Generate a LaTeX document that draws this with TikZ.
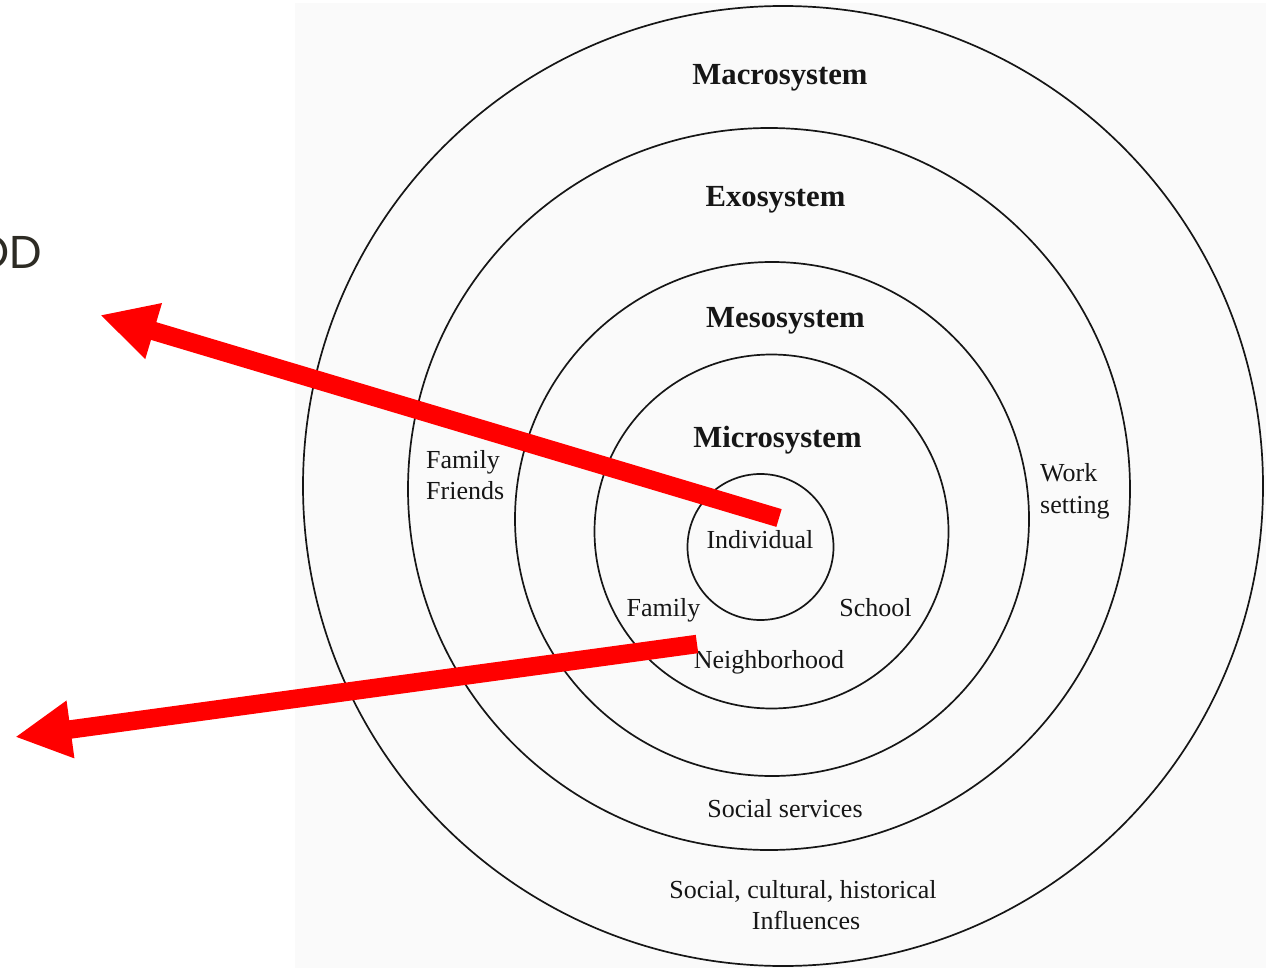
\documentclass[tikz,border=0pt]{standalone}
\usepackage{fontspec}
\setmainfont{Liberation Serif}
\newfontfamily\slidefont{Poppins}
\usetikzlibrary{arrows.meta}
\definecolor{panelgray}{RGB}{250,250,250}
\definecolor{ringline}{RGB}{22,22,22}
\definecolor{slidetext}{RGB}{45,43,36}
\begin{document}
\begin{tikzpicture}[x=1pt,y=-1pt,
  ring/.style={draw=ringline, line width=1.7pt},
  sysname/.style={font=\fontsize{30.7}{34}\selectfont\bfseries, text=ringline, inner sep=0pt, anchor=base},
  member/.style={font=\fontsize{26}{31}\selectfont, text=ringline, inner sep=0pt, anchor=base},
  memberleft/.style={member, anchor=base west},
  pointer/.style={draw=red, line width=18.5pt, -{Triangle[length=56pt,width=54pt]}}]
\useasboundingbox (0,0) rectangle (1271,968);
\clip (0,0) rectangle (1271,968);

% scanned panel behind the rings
\fill[panelgray] (295,3) rectangle (1266,968);

% slide title fragment at the left edge
\node[font=\slidefont\fontsize{46}{50}\selectfont, text=slidetext, inner sep=0pt, anchor=base east] (title) at (42,269) {OD};

% nested system rings
\draw[ring] (783,486) circle[radius=480pt];
\draw[ring] (769,489) circle[radius=361pt];
\draw[ring] (772,519) circle[radius=257pt];
\draw[ring] (771.5,531.5) circle[radius=177pt];
\draw[ring] (760.5,547) circle[radius=73pt];

% system names
\node[sysname] (macro) at (780,85) {Macrosystem};
\node[sysname] (exo) at (775.5,207) {Exosystem};
\node[sysname] (meso) at (785.5,327) {Mesosystem};
\node[sysname] (micro) at (777.5,447) {Microsystem};

% members of each system
\node[member] (indiv) at (760,548) {Individual};
\node[member] (family) at (663.5,616) {Family};
\node[member] (school) at (875.5,616) {School};
\node[member] (neigh) at (769,668) {Neighborhood};
\node[memberleft] (famB) at (426,468) {Family};
\node[memberleft] (friends) at (426,499) {Friends};
\node[memberleft] (work) at (1040,481) {Work};
\node[memberleft] (setting) at (1040,513) {setting};
\node[member] (services) at (785,817) {Social services};
\node[member] (influ1) at (803,898) {Social, cultural, historical};
\node[member] (influ2) at (806,929) {Influences};

% red pointers
\coordinate (tailA) at (779,518);
\coordinate (tipA) at (100,315);
\coordinate (tailB) at (697,644);
\coordinate (tipB) at (15,737);
\draw[pointer] (tailA) -- (tipA);
\draw[pointer] (tailB) -- (tipB);
\end{tikzpicture}
\end{document}
